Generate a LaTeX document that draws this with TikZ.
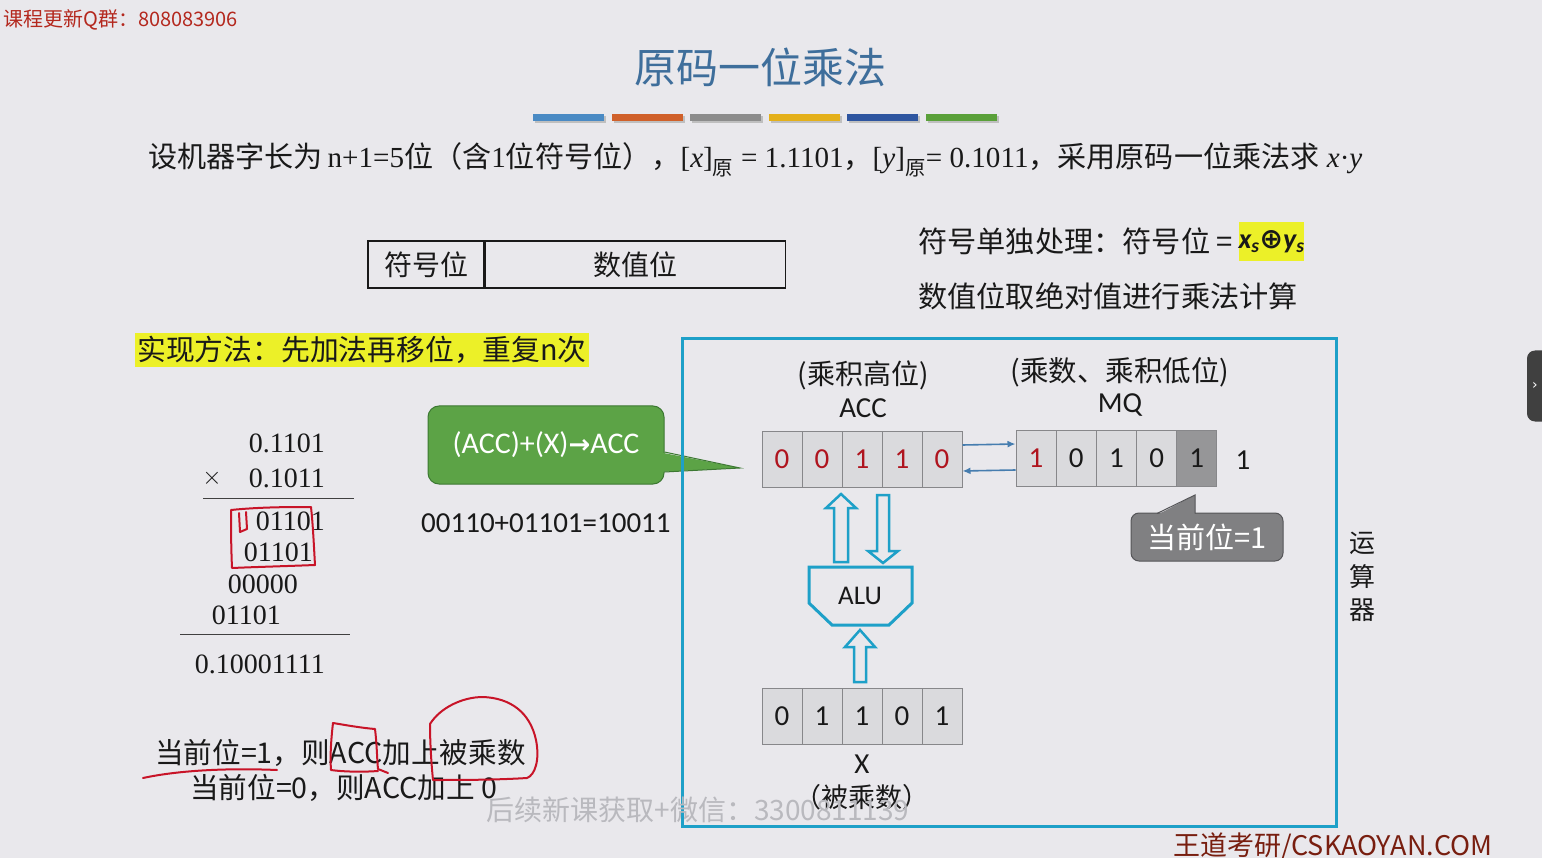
\documentclass[tikz,border=0pt]{standalone}
\usepackage{fontspec}
\setmainfont{Liberation Serif}
\newfontfamily\cjk{Noto Sans CJK SC}
\newfontfamily\calib{Carlito}
\newfontfamily\dejavu{DejaVu Sans}
\IfFontExistsTF{FandolSong-Regular.otf}
  {\newfontfamily\song{FandolSong-Regular.otf}}
  {\newfontfamily\song{Noto Sans CJK SC}}
\usetikzlibrary{calc,arrows.meta}

\definecolor{bg}{RGB}{233,232,236}
\definecolor{ink}{RGB}{25,25,25}
\definecolor{titleblue}{RGB}{62,110,155}
\definecolor{qred}{RGB}{180,40,30}
\definecolor{wdred}{RGB}{120,30,15}
\definecolor{hl}{RGB}{236,240,40}
\definecolor{cyanc}{RGB}{30,160,200}
\definecolor{cellfill}{RGB}{218,218,221}
\definecolor{cellline}{RGB}{135,135,138}
\definecolor{celldark}{RGB}{150,150,152}
\definecolor{digred}{RGB}{175,20,30}
\definecolor{steel}{RGB}{70,125,175}
\definecolor{gfill}{RGB}{92,163,70}
\definecolor{gline}{RGB}{60,120,50}
\definecolor{gcfill}{RGB}{128,128,130}
\definecolor{gcline}{RGB}{85,85,88}
\definecolor{handred}{RGB}{200,20,40}
\definecolor{wm}{RGB}{185,185,190}
\definecolor{barA}{RGB}{74,138,196}
\definecolor{barB}{RGB}{208,96,42}
\definecolor{barC}{RGB}{140,140,140}
\definecolor{barD}{RGB}{228,176,26}
\definecolor{barE}{RGB}{46,85,160}
\definecolor{barF}{RGB}{90,160,58}

\tikzset{
  every node/.style={inner sep=0pt, text=ink},
  reg/.style={draw=cellline, fill=cellfill, line width=1pt,
    minimum width=40pt, minimum height=56pt,
    font=\calib\fontsize{29}{30}\selectfont},
  hand/.style={draw=handred, line width=2pt, line cap=round, line join=round},
  fatarrow/.style={draw=cyanc, line width=2.5pt, fill=bg, line join=miter},
}

\begin{document}
\begin{tikzpicture}[x=1pt,y=-1pt]
\fill[bg] (0,0) rectangle (1542,858);
\useasboundingbox (0,0) rectangle (1542,858);

% header
\node[anchor=west, text=qred, font=\cjk\fontsize{20}{22}\selectfont] (qq) at (3,20) {课程更新Q群：808083906};
\node[text=titleblue, font=\song\fontsize{42}{46}\selectfont] (title) at (760,67) {原码一位乘法};
\foreach \c [count=\i] in {barA,barB,barC,barD,barE,barF} {
  \fill[black!25] (535+78.6*\i-78.6,116) rectangle ++(71,7);
  \fill[\c] (533+78.6*\i-78.6,114) rectangle ++(71,7);
}

% problem statement
\node[anchor=west, font=\fontsize{29.1}{32}\selectfont] (stmt) at (148,160)
 {{\song 设机器字长为}\,n+1=5{\song 位（含}1{\song 位符号位），}[\textit{x}]\textsubscript{\song 原} = 1.1101{\song ，}[\textit{y}]\textsubscript{\song 原}= 0.1011{\song ，采用原码一位乘法求} \textit{x}·\textit{y}};

% format table
\node[draw=ink, line width=1.2pt, minimum width=116pt, minimum height=47pt, font=\song\fontsize{28}{32}\selectfont] (sgn) at (426,264.5) {符号位};
\node[draw=ink, line width=1.2pt, minimum width=300pt, minimum height=47pt, anchor=west, font=\song\fontsize{28}{32}\selectfont] (val) at (sgn.east) {数值位};

% sign handling
\node[anchor=west, font=\cjk\fontsize{29.2}{32}\selectfont] (sign) at (918,241) {符号单独处理：符号位 =};
\node[fill=hl, minimum width=63pt, minimum height=39pt, font=\calib\bfseries\itshape\fontsize{28}{30}\selectfont] (xor) at (1271.5,242)
  {x\textsubscript{s}{\dejavu\bfseries\upshape ⊕}y\textsubscript{s}};
\node[anchor=west, font=\cjk\fontsize{29.2}{32}\selectfont] (absv) at (918,296) {数值位取绝对值进行乘法计算};

% method
\node[anchor=west, fill=hl, inner xsep=2pt, minimum height=34pt, font=\cjk\fontsize{28.8}{32}\selectfont] (method) at (135,350) {实现方法：先加法再移位，重复n次};

% hand multiplication
\begin{scope}[every node/.append style={font=\fontsize{28}{32}\selectfont}]
\node[anchor=east] (m1) at (325,443) {0.1101};
\node (mx) at (212,478) {$\times$};
\node[anchor=east] (m2) at (325,478) {0.1011};
\node[anchor=east] (p1) at (325,521) {01101};
\node[anchor=east] (p2) at (313,552) {01101};
\node[anchor=east] (p3) at (298,584) {00000};
\node[anchor=east] (p4) at (281,615) {01101};
\node[anchor=east] (res) at (325,664) {0.10001111};
\end{scope}
\draw[black!75, line width=1pt] (203,498) -- (354,498);
\draw[black!75, line width=1pt] (180,634) -- (350,634);

% green operation callout
\node[fill=gfill, draw=gline, line width=1pt, rounded corners=11pt, minimum width=236pt, minimum height=78pt,
      text=white, font=\calib\fontsize{30}{32}\selectfont] (op) at (546,445) {(ACC)+(X){\dejavu\bfseries\fontsize{26}{28}\selectfont→}ACC};
\coordinate (optip) at (740,468);
\fill[gfill] ($(op.east)+(-6,7)$) -- (optip) -- ($(op.east)+(-6,27)$) -- cycle;
\draw[gline, line width=1pt] ($(op.east)+(0,7)$) -- (optip) -- ($(op.east)+(0,27)$);

\node[anchor=west, font=\calib\fontsize{29}{32}\selectfont] (sum) at (421,523) {00110+01101=10011};

% arithmetic unit frame
\draw[cyanc, line width=3pt] (682,339) rectangle (1336,826);

\node[font=\cjk\fontsize{28}{30}\selectfont] (acclbl) at (863,375) {(乘积高位)};
\node[font=\calib\fontsize{29}{30}\selectfont] (accname) at (863,408) {ACC};
\node[font=\cjk\fontsize{28.5}{30}\selectfont] (mqlbl) at (1120,372) {(乘数、乘积低位)};
\node[font=\calib\fontsize{29}{30}\selectfont] (mqname) at (1120,405) {MQ};

% registers
\foreach \v [count=\i] in {0,0,1,1,0}
  \node[reg, text=digred] (acc\i) at (742+40*\i,459) {\v};
\node[reg, text=digred] (mq1) at (1036,458) {1};
\node[reg] (mq2) at (1076.2,458) {0};
\node[reg] (mq3) at (1116.4,458) {1};
\node[reg] (mq4) at (1156.6,458) {0};
\node[reg, fill=celldark] (mq5) at (1196.8,458) {1};
\node[font=\calib\fontsize{29}{30}\selectfont] (mqout) at (1243,460) {1};
\foreach \v [count=\i] in {0,1,1,0,1}
  \node[reg] (x\i) at (742+40*\i,716) {\v};
\node[font=\calib\fontsize{29}{30}\selectfont] (xname) at (862,764) {X};
\node[font=\song\fontsize{27}{30}\selectfont] (xlbl) at (862,797) {（被乘数）};

\draw[steel, line width=1.6pt, -{Latex[length=8pt,width=7pt]}] ([yshift=14pt]acc5.east) -- ([yshift=14pt]mq1.west);
\draw[steel, line width=1.6pt, -{Latex[length=8pt,width=7pt]}] ([yshift=-12pt]mq1.west) -- ([yshift=-12pt]acc5.east);

% ALU
\node[font=\calib\fontsize{27}{30}\selectfont] (alu) at (860,596) {ALU};
\draw[cyanc, line width=3pt, line join=miter]
  ($(alu)+(-51,-29)$) -- ($(alu)+(52,-29)$) -- ($(alu)+(52,7)$) -- ($(alu)+(29,29)$)
  -- ($(alu)+(-28,29)$) -- ($(alu)+(-51,7)$) -- cycle;

% wide data-path arrows
\draw[fatarrow] (834,562) -- (834,508) -- (826,508) -- (841,494) -- (856,508) -- (848,508) -- (848,562) -- cycle;
\draw[fatarrow] (877,495) -- (889,495) -- (889,551) -- (898,551) -- (883,563) -- (868,551) -- (877,551) -- cycle;
\draw[fatarrow] (854,682) -- (854,647) -- (845,647) -- (860,630) -- (875,647) -- (866,647) -- (866,682) -- cycle;

% current-bit callout
\node[fill=gcfill, draw=gcline, line width=1pt, rounded corners=8pt, minimum width=152pt, minimum height=48pt,
      text=white, font=\cjk\fontsize{29}{30}\selectfont] (cur) at (1207,537) {当前位=1};
\coordinate (curtip) at (1195,495);
\fill[gcfill] (1157,515) -- (curtip) -- (1195,515) -- cycle;
\draw[gcline, line width=1pt] (1157,513.5) -- (curtip) -- (1195,513.5);

% unit name
\node[font=\song\fontsize{26}{30}\selectfont] (u1) at (1362,543) {运};
\node[font=\song\fontsize{26}{30}\selectfont] (u2) at (1362,577) {算};
\node[font=\song\fontsize{26}{30}\selectfont] (u3) at (1362,610) {器};

% rules
\node[anchor=west, font=\cjk\fontsize{28.6}{32}\selectfont] (rule1) at (155,753) {当前位=1，则ACC加上被乘数};
\node[anchor=west, font=\cjk\fontsize{28.6}{32}\selectfont] (rule0) at (190,788) {当前位=0，则ACC加上 0};

% pen marks
\draw[hand] (231,510) .. controls (260,507) and (290,507) .. (311,507) .. controls (313,525) and (314,548) .. (315,565)
  .. controls (290,566) and (255,567) .. (232,568) .. controls (231,545) and (231,525) .. (231,510);
\draw[hand] (239,513) -- (240,532) -- (247,529) -- (246,512);
\draw[hand] (143,778) .. controls (180,770) and (230,768) .. (277,770);
\draw[hand] (333,723) .. controls (345,725) and (362,728) .. (375,729) .. controls (377,745) and (377,760) .. (378,769)
  -- (388,773);
\draw[hand] (333,723) .. controls (331,740) and (330,757) .. (331,770) .. controls (345,772) and (365,772) .. (378,771);
\draw[hand] (430,724) .. controls (440,708) and (462,697) .. (483,697) .. controls (510,698) and (530,712) .. (536,740)
  .. controls (540,760) and (535,775) .. (527,778) .. controls (495,780) and (460,780) .. (433,780)
  .. controls (431,760) and (430,740) .. (430,724);

% overlays
\node[text=wm, font=\cjk\fontsize{28}{32}\selectfont] (wmark) at (698,810) {后续新课获取+微信：3300811139};
\node[anchor=west, text=wdred, font=\cjk\fontsize{27}{28}\selectfont] (site) at (1173,847) {王道考研/CSKAOYAN.COM};
\node[fill=black!75, rounded corners=8pt, minimum width=30pt, minimum height=71pt] (tab) at (1542,386) {};
\node[text=white, font=\dejavu\fontsize{14}{16}\selectfont] (tabmark) at (1535,386) {›};
\end{tikzpicture}
\end{document}
